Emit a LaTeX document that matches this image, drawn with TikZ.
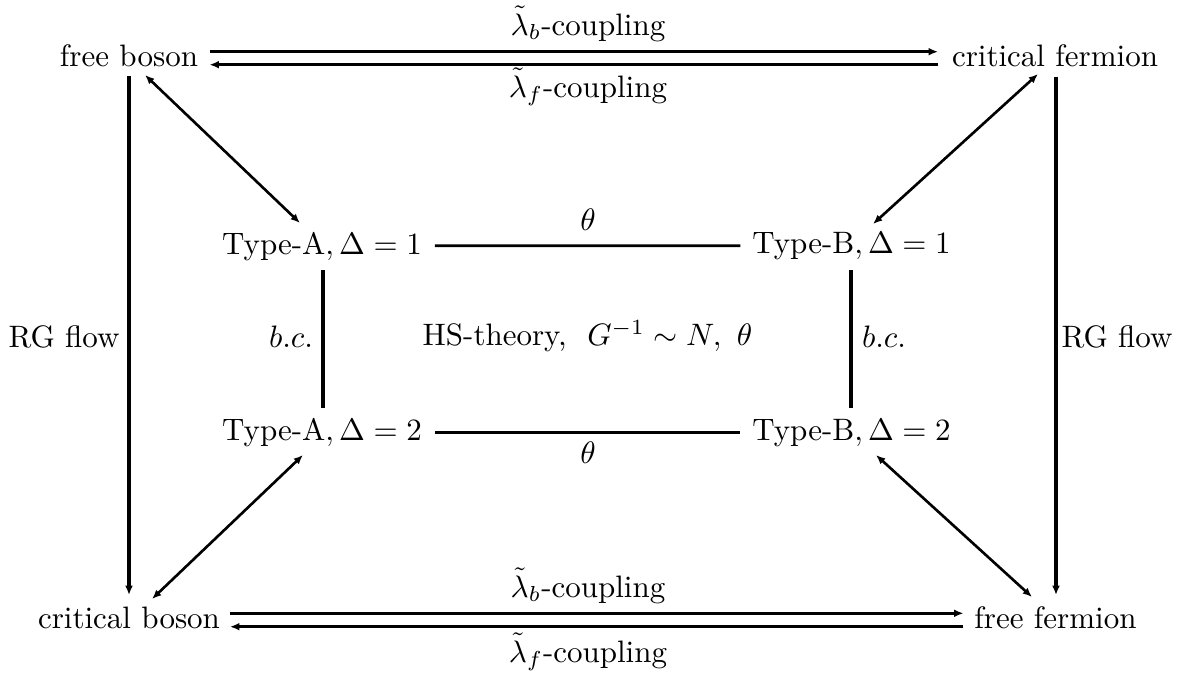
\documentclass[tikz,border=0pt]{standalone}
\usetikzlibrary{calc,arrows.meta}
\begin{document}
\begin{tikzpicture}[x=0.3226pt,y=-0.3226pt,
  lbl/.style={inner sep=0pt,outer sep=0pt,anchor=base},
  conn/.style={line width=0.85pt},
  arr/.style={conn,-{Latex[length=3pt,width=2.5pt]}},
  darr/.style={conn,{Latex[length=3pt,width=2.5pt]}-{Latex[length=3pt,width=2.5pt]}}]
\useasboundingbox (0,0) rectangle (1183,673);
% main nodes
\node[lbl] (fb) at (129,66.7) {free boson};
\node[lbl] (cf) at (1055,66.7) {critical fermion};
\node[lbl] (cb) at (129,628) {critical boson};
\node[lbl] (ff) at (1055.5,628) {free fermion};
\node[lbl] (a1) at (322,254) {Type-A$,\Delta=1$};
\node[lbl] (b1) at (851.5,253.3) {Type-B$,\Delta=1$};
\node[lbl] (a2) at (322,440.7) {Type-A$,\Delta=2$};
\node[lbl] (b2) at (851.5,440.7) {Type-B$,\Delta=2$};
\node[lbl] (hs) at (587.5,345.5) {HS-theory,\ \ $G^{-1}\sim N,\ \theta$};
% labels
\node[lbl] (lbt) at (588,35) {$\tilde\lambda_b$-coupling};
\node[lbl] (lft) at (588,97) {$\tilde\lambda_f$-coupling};
\node[lbl] (lbb) at (588,597) {$\tilde\lambda_b$-coupling};
\node[lbl] (lfb) at (588,662) {$\tilde\lambda_f$-coupling};
\node[lbl] (tht) at (588,230) {$\theta$};
\node[lbl] (thb) at (588,463) {$\theta$};
\node[lbl] (rgl) at (64,347) {RG flow};
\node[lbl] (rgr) at (1117,347) {RG flow};
\node[lbl,anchor=base east] (bcl) at (313,347) {$b.c.$};
\node[lbl,anchor=base west] (bcr) at (862,347) {$b.c.$};
% top double arrows
\draw[arr] ($(fb.base east)+(11.5,-15)$) -- ($(cf.base west)+(-14,-15)$);
\draw[arr] ($(cf.base west)+(-14,-2)$) -- ($(fb.base east)+(11.5,-2)$);
% bottom double arrows
\draw[arr] ($(cb.base east)+(10,-14.7)$) -- ($(ff.base west)+(-11,-14.7)$);
\draw[arr] ($(ff.base west)+(-11,-1.3)$) -- ($(cb.base east)+(10,-1.3)$);
% RG flows
\draw[arr,line width=1pt] ($(fb.base)+(0,9.3)$) -- ($(cb.base)+(0,-33)$);
\draw[arr,line width=1pt] ($(cf.base)+(1,10)$) -- ($(ff.base)+(0.5,-33)$);
% diagonals
\draw[darr] ($(fb.base)+(16,8.3)$) -- ($(a1.base)+(-22,-31)$);
\draw[darr] ($(cf.base)+(-17,7.3)$) -- ($(b1.base)+(21.5,-29.3)$);
\draw[darr] ($(a2.base)+(-19,14.3)$) -- ($(cb.base)+(23,-29)$);
\draw[darr] ($(b2.base)+(24.5,14.3)$) -- ($(ff.base)+(-23.5,-31)$);
% theta lines
\draw[conn] ($(a1.base east)+(13,-8.3)$) -- ($(b1.base west)+(-12,-7.6)$);
\draw[conn] ($(a2.base east)+(13,-8)$) -- ($(b2.base west)+(-12,-8)$);
% b.c. lines
\draw[conn,line width=1pt] ($(a1.base)+(1,16)$) -- ($(a2.base)+(1,-32.7)$);
\draw[conn,line width=1pt] ($(b1.base)+(-0.5,16.7)$) -- ($(b2.base)+(-0.5,-32.7)$);
\end{tikzpicture}
\end{document}
